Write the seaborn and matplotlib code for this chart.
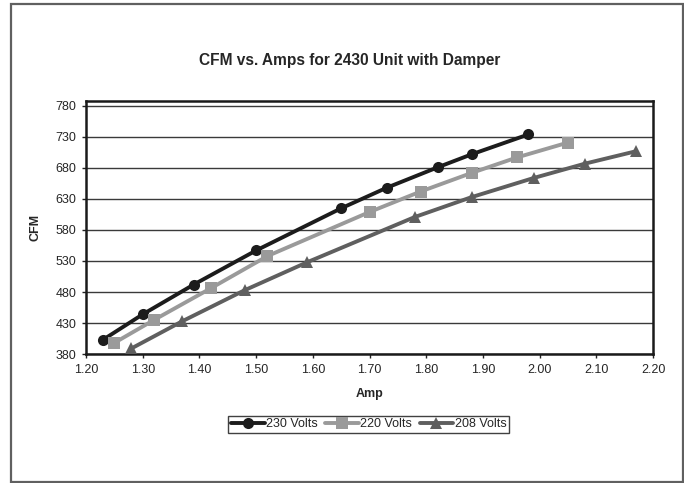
import pandas as pd
import seaborn as sns
import matplotlib.pyplot as plt
from matplotlib.patches import Rectangle

# values
amp_230 = [1.23, 1.30, 1.39, 1.50, 1.65, 1.73, 1.82, 1.88, 1.98]
cfm_230 = [403, 444, 492, 547, 615, 648, 681, 702, 734]
amp_220 = [1.25, 1.32, 1.42, 1.52, 1.70, 1.79, 1.88, 1.96, 2.05]
cfm_220 = [398, 435, 486, 538, 609, 642, 672, 697, 721]
amp_208 = [1.28, 1.37, 1.48, 1.59, 1.78, 1.88, 1.99, 2.08, 2.17]
cfm_208 = [389, 433, 483, 528, 601, 633, 664, 687, 707]
series = ['230 Volts', '220 Volts', '208 Volts']

x_ticks = [1.20, 1.30, 1.40, 1.50, 1.60, 1.70, 1.80, 1.90, 2.00, 2.10, 2.20]
y_ticks = [380, 430, 480, 530, 580, 630, 680, 730, 780]

df = pd.concat([
    pd.DataFrame({'Amp': amp_230, 'CFM': cfm_230, 'Series': series[0]}),
    pd.DataFrame({'Amp': amp_220, 'CFM': cfm_220, 'Series': series[1]}),
    pd.DataFrame({'Amp': amp_208, 'CFM': cfm_208, 'Series': series[2]}),
])

sns.set_style('white')
plt.rcParams['font.family'] = ['Liberation Sans', 'DejaVu Sans']

fig = plt.figure(figsize=(6.84, 4.83), dpi=100)
ax = fig.add_axes([0.1257, 0.267, 0.8293, 0.524])

palette = {'230 Volts': '#1c1c1c', '220 Volts': '#9a9a9a', '208 Volts': '#5f5f5f'}
markers = {'230 Volts': 'o', '220 Volts': 's', '208 Volts': '^'}
sns.lineplot(data=df, x='Amp', y='CFM', hue='Series', style='Series',
             palette=palette, markers=markers, dashes=False, markersize=8,
             markeredgewidth=0, linewidth=2.8, ax=ax, sort=False, zorder=3)

ax.set_xlim(1.20, 2.20)
ax.set_ylim(380, 788)
ax.set_xticks(x_ticks)
ax.set_xticklabels([f'{t:.2f}' for t in x_ticks], fontsize=9)
ax.set_yticks(y_ticks)
ax.set_yticklabels([str(t) for t in y_ticks], fontsize=9)
ax.tick_params(axis='both', direction='out', length=3, width=1, color='#222222',
               bottom=True, left=True, pad=4)
ax.yaxis.grid(True, color='#3a3a3a', linewidth=1)
ax.set_axisbelow(True)
for side in ['top', 'right', 'bottom', 'left']:
    ax.spines[side].set_visible(True)
    ax.spines[side].set_color('#1a1a1a')
    ax.spines[side].set_linewidth(1.8)

ax.set_xlabel('Amp', fontsize=9, fontweight='bold', labelpad=9)
ax.set_ylabel('CFM', fontsize=9, fontweight='bold', labelpad=10)
fig.text(0.511, 1 - 60 / 483, 'CFM vs. Amps for 2430 Unit with Damper',
         fontsize=11.2, fontweight='bold', ha='center', va='center')

handles, labels = ax.get_legend_handles_labels()
ax.legend(handles, labels, loc='center', bbox_to_anchor=(0.539, 0.122),
          bbox_transform=fig.transFigure, ncol=3, fontsize=9, frameon=True,
          fancybox=False, edgecolor='#111111', handlelength=2.7, handletextpad=0.1,
          columnspacing=0.6, borderpad=0.2, markerscale=1.0)
ax.get_legend().get_frame().set_linewidth(1)

fig.patches.append(Rectangle((11 / 684, 1 / 483), 672 / 684, 478 / 483,
                             transform=fig.transFigure, fill=False,
                             edgecolor='#606060', linewidth=1.6))

fig.savefig('out.png', dpi=100)
